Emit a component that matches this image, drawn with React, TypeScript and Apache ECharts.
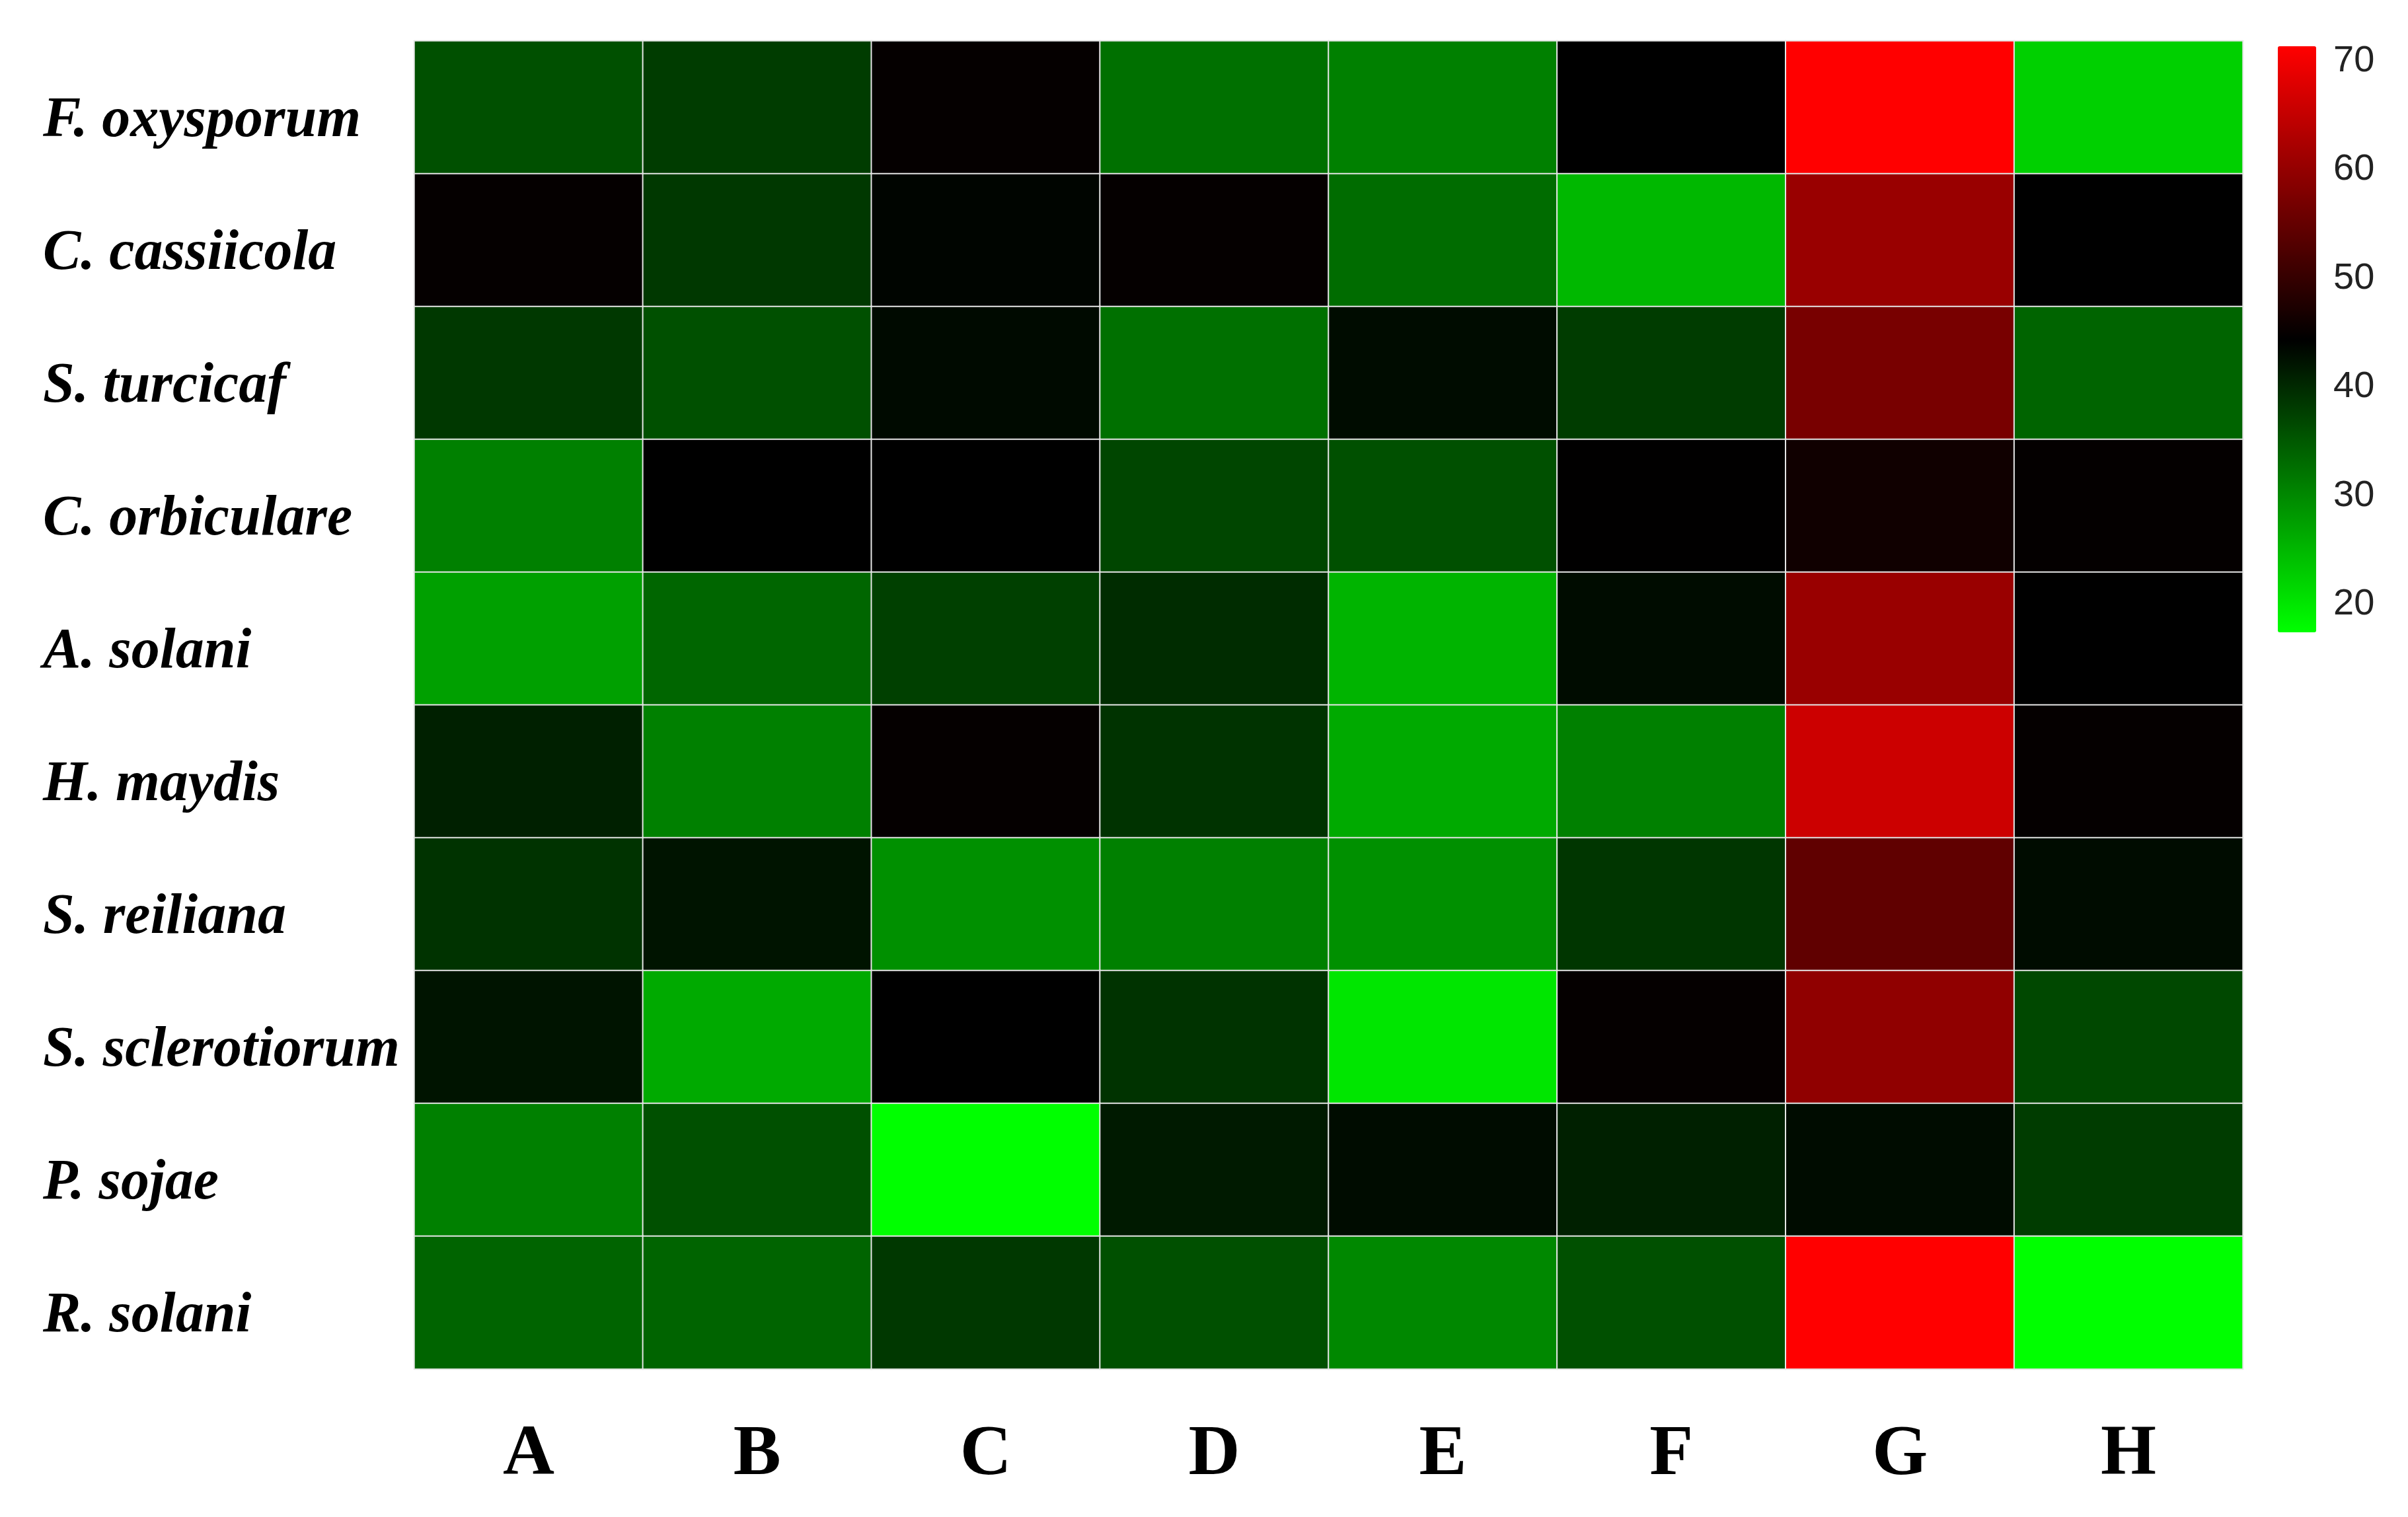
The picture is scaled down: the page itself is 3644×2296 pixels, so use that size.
import React, { useEffect, useRef } from "react";
import * as echarts from "echarts";

const rowNames = [
  "F. oxysporum",
  "C. cassiicola",
  "S. turcicaf",
  "C. orbiculare",
  "A. solani",
  "H. maydis",
  "S. reiliana",
  "S. sclerotiorum",
  "P. sojae",
  "R. solani",
];
const colNames = ["A", "B", "C", "D", "E", "F", "G", "H"];

const rowFOxysporum = [35.7, 37.8, 44.7, 32.3, 30.6, 44.15, 71.1, 22.2];
const rowCCassiicola = [44.7, 38.2, 43.6, 44.7, 32.7, 24.7, 60.3, 44.15];
const rowSTurcicaf = [38.2, 35.7, 43.1, 32.3, 42.9, 37.8, 56.8, 33.6];
const rowCOrbiculare = [30.6, 44.15, 44.15, 36.8, 35.7, 44.3, 45.8, 44.6];
const rowASolani = [27.2, 33.4, 37.4, 39.5, 25.1, 42.9, 60.3, 44.15];
const rowHMaydis = [40.8, 30.6, 44.7, 38.8, 26.2, 30.6, 65.7, 44.7];
const rowSReiliana = [38.8, 42.0, 28.9, 30.6, 28.9, 38.4, 54.3, 42.9];
const rowSSclerotiorum = [42.0, 26.2, 44.15, 38.8, 19.8, 44.7, 59.4, 36.5];
const rowPSojae = [30.6, 35.7, 17.2, 41.4, 42.9, 40.8, 42.9, 37.8];
const rowRSolani = [33.6, 33.6, 38.2, 35.7, 29.8, 35.7, 71.1, 17.2];

const allRows = [
  rowFOxysporum,
  rowCCassiicola,
  rowSTurcicaf,
  rowCOrbiculare,
  rowASolani,
  rowHMaydis,
  rowSReiliana,
  rowSSclerotiorum,
  rowPSojae,
  rowRSolani,
];

const scaleMin = 17.2;
const scaleMax = 71.1;
const scaleTicks = [20, 30, 40, 50, 60, 70];

export default function App() {
  const ref = useRef<HTMLDivElement>(null);

  useEffect(() => {
    document.body.style.margin = "0";
    if (!ref.current) return;
    const chart = echarts.init(ref.current, null, { renderer: "svg" });

    const data: [number, number, number][] = [];
    allRows.forEach((row, ri) => {
      row.forEach((v, ci) => data.push([ci, ri, v]));
    });

    chart.setOption({
      animation: false,
      backgroundColor: "#ffffff",
      grid: [
        { left: 627, top: 62, width: 2767, height: 2010, show: false },
        { left: 3447, top: 70, width: 58, height: 887, show: false },
      ],
      xAxis: [
        {
          type: "category",
          gridIndex: 0,
          data: colNames,
          axisLine: { show: false },
          axisTick: { show: false },
          splitLine: { show: false },
          axisLabel: {
            margin: 68,
            fontFamily: "Liberation Serif",
            fontWeight: "bold",
            fontSize: 108,
            color: "#000",
          },
        },
        { type: "value", gridIndex: 1, show: false, min: 0, max: 1 },
      ],
      yAxis: [
        {
          type: "category",
          gridIndex: 0,
          data: rowNames,
          inverse: true,
          axisLine: { show: false },
          axisTick: { show: false },
          splitLine: { show: false },
          axisLabel: {
            align: "left",
            verticalAlign: "top",
            lineHeight: 28,
            margin: 562,
            fontFamily: "Liberation Serif",
            fontWeight: "bold",
            fontStyle: "italic",
            fontSize: 86,
            color: "#000",
          },
        },
        {
          type: "value",
          gridIndex: 1,
          min: scaleMin,
          max: scaleMax,
          position: "right",
          axisLine: { show: false },
          axisTick: { show: false },
          splitLine: { show: false },
          axisLabel: {
            customValues: scaleTicks,
            margin: 26,
            fontFamily: "Liberation Sans",
            fontSize: 56,
            color: "#222",
          },
        },
      ],
      visualMap: {
        type: "continuous",
        min: scaleMin,
        max: scaleMax,
        seriesIndex: 0,
        orient: "vertical",
        left: 3447,
        top: 70,
        itemWidth: 58,
        itemHeight: 887,
        padding: 0,
        calculable: false,
        hoverLink: false,
        inRange: { color: ["#00ff00", "#000000", "#ff0000"] },
      },
      series: [
        {
          type: "heatmap",
          xAxisIndex: 0,
          yAxisIndex: 0,
          data,
          itemStyle: { borderColor: "#e6e6e6", borderWidth: 2 },
          emphasis: { disabled: true },
        },
      ],
    });

    return () => chart.dispose();
  }, []);

  return <div ref={ref} style={{ width: 3644, height: 2296 }} />;
}
